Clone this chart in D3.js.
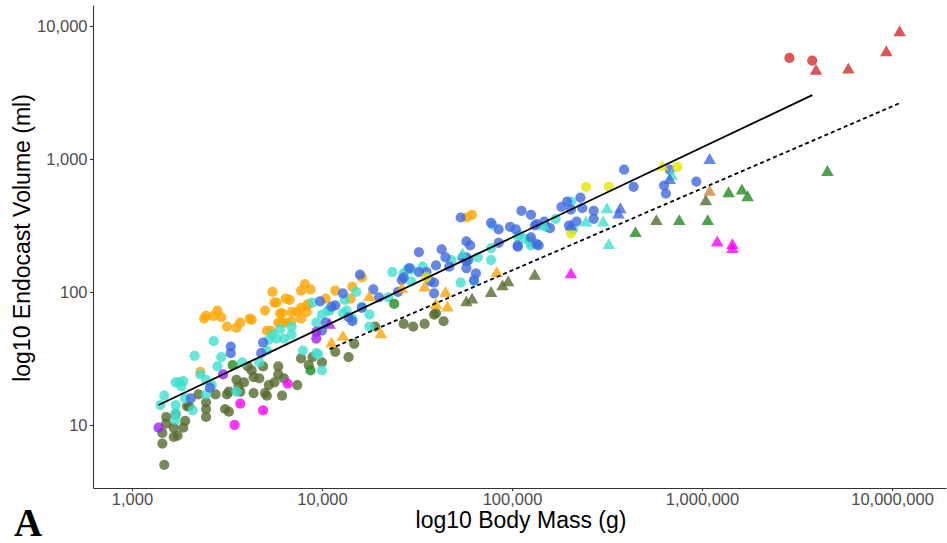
<!DOCTYPE html>
<html>
<head>
<meta charset="utf-8">
<script src="https://cdn.jsdelivr.net/npm/d3@7"></script>
<style>
  body { margin: 0; background: #fff; }
  text { font-family: "Liberation Sans", Arial, sans-serif; }
</style>
</head>
<body>
<svg id="chart" width="947" height="543"></svg>
<script>
// values are [log10 body mass (g), log10 endocast volume (ml)]

var orangeCircles = [[3.36,1.40],[3.38,1.80],[3.39,1.82],[3.43,1.82],[3.45,1.86],[3.47,1.81],[3.50,1.74],[3.55,1.73],
  [3.57,1.77],[3.62,1.80],[3.63,1.79],[3.70,1.86],[3.74,2.00],[3.75,1.92],[3.76,1.92],[3.71,1.71],[3.73,1.71],[3.77,1.77],
  [3.78,1.84],[3.79,1.84],[3.81,1.95],[3.83,1.94],[3.84,1.85],[3.81,1.77],[3.79,1.77],[3.84,1.78],[3.87,1.85],[3.89,2.01],
  [3.91,2.06],[3.94,2.02],[3.92,1.90],[3.92,1.85],[3.89,1.80],[4.02,1.95],[4.07,2.01],[4.16,2.04],[4.15,1.95],[4.21,2.11],
  [4.76,2.56],[4.79,2.58],[3.93,1.91],[3.89,1.88]];
var orangeTriangles = [[4.05,1.61],[4.11,1.66],[4.31,1.68],[4.25,1.96],[4.42,2.02],[4.54,2.03],[4.65,1.99],[4.66,1.88],
  [4.60,1.90],[4.92,2.14]];

var turquoiseCircles = [[3.43,1.63],[3.33,1.52],[3.47,1.51],[3.45,1.44],[3.23,1.32],[3.25,1.32],[3.27,1.33],[3.26,1.29],
  [3.17,1.22],[3.15,1.15],[3.23,1.15],[3.23,1.09],[3.23,1.04],[3.28,1.20],[3.32,1.11],[3.36,1.38],[3.39,1.34],[3.42,1.30],
  [3.39,1.23],[3.55,1.25],[3.58,1.47],[3.67,1.47],[3.72,1.64],[3.76,1.65],[3.80,1.65],[3.84,1.68],[3.84,1.74],[3.78,1.72],
  [3.74,1.68],[3.90,1.56],[3.97,1.77],[4.00,1.83],[4.03,1.86],[3.95,1.92],[4.00,1.41],[3.97,1.54],[3.71,1.56],[4.37,2.15],
  [4.25,1.83],[4.25,1.74],[4.18,2.00],[4.16,1.80],[4.12,1.94],[4.13,1.86],[4.04,1.86],[3.98,1.53],[4.43,2.14],[4.45,2.17],
  [4.53,2.19],[4.47,2.08],[4.47,2.17],[4.35,1.96],[4.21,1.89],[4.11,1.84],[4.90,2.50],[4.89,2.24],[4.82,2.26],[4.73,2.07],
  [4.80,2.08],[4.68,2.24],[5.04,2.43],[5.09,2.39],[5.10,2.35],[5.18,2.49],[5.23,2.55],[5.31,2.68],[5.32,2.47],[5.07,2.40],
  [5.10,2.37],[5.03,2.42],[4.89,2.33]];
var turquoiseTriangles = [[4.74,2.28],[5.17,2.49],[5.39,2.52],[5.48,2.52],[5.50,2.62],[5.51,2.35],[5.84,2.87]];

var blueCircles = [[3.52,1.59],[3.52,1.54],[3.69,1.62],[3.68,1.54],[3.31,1.20],[3.41,1.28],[3.99,1.93],[4.02,1.77],
  [4.00,1.71],[4.51,2.30],[4.60,2.20],[4.51,2.15],[4.43,2.11],[4.59,2.07],[4.59,1.99],[4.40,2.00],[4.21,1.88],[4.16,1.78],
  [4.11,1.99],[4.07,1.90],[4.73,2.56],[5.05,2.61],[5.10,2.58],[4.89,2.52],[4.93,2.47],[4.99,2.49],[5.02,2.47],[5.12,2.50],
  [5.17,2.53],[5.10,2.41],[5.14,2.35],[5.03,2.34],[4.93,2.37],[4.78,2.35],[4.76,2.38],[4.76,2.26],[4.76,2.23],[4.76,2.18],
  [4.81,2.14],[4.80,2.09],[4.63,2.32],[4.65,2.26],[4.55,2.15],[4.46,2.18],[4.42,2.09],[4.57,2.08],[4.27,2.02],[4.30,1.96],
  [4.20,2.13],[4.05,1.89],[4.14,1.81],[5.59,2.92],[5.64,2.79],[5.80,2.80],[5.81,2.74],[5.97,2.83],[5.83,2.92],[5.36,2.71],
  [5.29,2.68],[5.31,2.62],[5.26,2.64],[5.37,2.63],[5.43,2.61],[5.43,2.55],[5.34,2.53],[5.13,2.51],[5.20,2.48],[5.13,2.36],
  [5.03,2.35],[4.67,2.19],[5.30,2.50],[4.74,2.26],[4.77,2.24]];
var blueTriangles = [[5.57,2.62],[5.56,2.58],[5.31,2.49],[6.04,2.99],[5.83,2.84]];

var oliveCircles = [[3.17,0.70],[3.16,0.86],[3.24,0.92],[3.22,0.91],[3.22,0.98],[3.27,0.98],[3.28,1.03],[3.16,0.94],
  [3.18,1.01],[3.18,1.06],[3.23,1.08],[3.29,1.14],[3.30,1.14],[3.35,1.23],[3.39,1.17],[3.39,1.12],[3.39,1.06],[3.44,1.23],
  [3.49,1.12],[3.51,1.10],[3.50,1.23],[3.55,1.34],[3.56,1.29],[3.57,1.25],[3.59,1.32],[3.61,1.44],[3.63,1.41],[3.64,1.36],
  [3.67,1.35],[3.69,1.44],[3.64,1.24],[3.70,1.24],[3.71,1.22],[3.72,1.30],[3.75,1.32],[3.77,1.44],[3.77,1.38],[3.80,1.35],
  [3.79,1.22],[3.87,1.30],[3.89,1.50],[3.93,1.45],[3.95,1.51],[4.00,1.47],[3.51,1.25],[4.07,1.55],[4.14,1.51],[4.17,1.61],
  [4.28,1.74],[4.43,1.76],[4.48,1.74],[4.54,1.76],[4.59,1.83],[4.60,1.84],[4.64,1.78]];
var oliveTriangles = [[4.76,1.92],[4.79,1.94],[4.89,1.99],[4.95,2.04],[4.98,2.07],[5.12,2.12],[5.76,2.53],[6.02,2.68]];

var greenCircles = [[3.53,1.45],[3.94,1.41],[4.38,1.91]];
var greenTriangles = [[5.65,2.44],[5.88,2.53],[6.03,2.53],[6.14,2.74],[6.21,2.76],[6.24,2.71],[6.66,2.90]];

var purpleCircles = [[3.14,0.98],[3.48,1.38],[3.97,1.70],[3.97,1.65]];
var purpleTriangles = [[4.04,1.75]];

var magentaCircles = [[3.54,1.00],[3.57,1.16],[3.69,1.11],[3.82,1.31]];
var magentaTriangles = [[5.31,2.13],[6.08,2.37],[6.16,2.35],[6.16,2.32]];

var yellowCircles = [[4.55,2.11],[5.39,2.79],[5.51,2.79],[5.31,2.44],[5.87,2.94]];
var yellowTriangles = [[5.79,2.94]];

var peruTriangles = [[6.04,2.75]];

var redCircles = [[6.46,3.76],[6.58,3.74]];
var redTriangles = [[6.60,3.66],[6.77,3.67],[6.97,3.80],[7.04,3.95]];

// fitted lines, end points
var solidFit = [[3.14,1.15],[6.58,3.48]];
var dashedFit = [[4.04,1.57],[7.04,3.42]];

var xTicks = [1e3, 1e4, 1e5, 1e6, 1e7];
var yTicks = [10, 100, 1000, 10000];

var colours = {
  orange: "#FFA500", turquoise: "#40E0D0", blue: "#4169E1", olive: "#556B2F", green: "#228B22",
  purple: "#A020F0", magenta: "#FF00FF", yellow: "#E6E600", peru: "#CD853F", red: "#D42A2A"
};

var series = [
  ["olive", "circle", oliveCircles], ["orange", "circle", orangeCircles], ["turquoise", "circle", turquoiseCircles],
  ["blue", "circle", blueCircles], ["green", "circle", greenCircles], ["purple", "circle", purpleCircles],
  ["magenta", "circle", magentaCircles], ["yellow", "circle", yellowCircles], ["red", "circle", redCircles],
  ["orange", "triangle", orangeTriangles], ["turquoise", "triangle", turquoiseTriangles], ["blue", "triangle", blueTriangles],
  ["olive", "triangle", oliveTriangles], ["green", "triangle", greenTriangles], ["purple", "triangle", purpleTriangles],
  ["magenta", "triangle", magentaTriangles], ["yellow", "triangle", yellowTriangles], ["peru", "triangle", peruTriangles],
  ["red", "triangle", redTriangles]
];

var points = [];
series.forEach(function (s) {
  s[2].forEach(function (p) {
    points.push({ group: s[0], shape: s[1], mass: Math.pow(10, p[0]), vol: Math.pow(10, p[1]) });
  });
});

var svg = d3.select("#chart");

var x = d3.scaleLog().domain([Math.pow(10, 2.795), Math.pow(10, 7.284)]).range([93, 946]);
var y = d3.scaleLog().domain([Math.pow(10, 0.526), Math.pow(10, 4.158)]).range([488, 5]);

// points
var circleSym = d3.symbol().type(d3.symbolCircle).size(82);
var triSym = d3.symbol().type(d3.symbolTriangle).size(68);

svg.append("g").selectAll("path")
  .data(points)
  .enter().append("path")
    .attr("transform", function (d) { return "translate(" + x(d.mass) + "," + y(d.vol) + ")"; })
    .attr("d", function (d) { return d.shape === "circle" ? circleSym() : triSym(); })
    .style("fill", function (d) { return colours[d.group]; })
    .style("fill-opacity", 0.8);

// fit lines
var line = d3.line()
  .x(function (d) { return x(Math.pow(10, d[0])); })
  .y(function (d) { return y(Math.pow(10, d[1])); });

svg.append("path").datum(solidFit)
  .attr("d", line).style("fill", "none").style("stroke", "#000").style("stroke-width", 1.8);
svg.append("path").datum(dashedFit)
  .attr("d", line).style("fill", "none").style("stroke", "#000").style("stroke-width", 1.8)
  .style("stroke-dasharray", "4,3");

// axes
var xAxis = svg.append("g").attr("transform", "translate(0,488)")
  .call(d3.axisBottom(x).tickValues(xTicks).tickFormat(d3.format(",")).tickSize(3).tickPadding(2.5).tickSizeOuter(0));
var yAxis = svg.append("g").attr("transform", "translate(93,0)")
  .call(d3.axisLeft(y).tickValues(yTicks).tickFormat(d3.format(",")).tickSize(3).tickPadding(2.5).tickSizeOuter(0));

[xAxis, yAxis].forEach(function (a) {
  a.select(".domain").style("stroke", "#333").style("stroke-width", 1.1);
  a.selectAll(".tick line").style("stroke", "#333").style("stroke-width", 1.1);
  a.selectAll(".tick text").style("fill", "#4D4D4D").style("font-size", "16.5px")
    .style("font-family", "'Liberation Sans', Arial, sans-serif");
});

// titles
svg.append("text")
  .attr("x", 521).attr("y", 528)
  .attr("text-anchor", "middle")
  .style("font-size", "23px").style("fill", "#000")
  .text("log10 Body Mass (g)");

svg.append("text")
  .attr("transform", "translate(30,238) rotate(-90)")
  .attr("text-anchor", "middle")
  .style("font-size", "23px").style("fill", "#000")
  .text("log10 Endocast Volume (ml)");

svg.append("text")
  .attr("x", 14).attr("y", 536)
  .style("font-family", "'Liberation Serif', 'Times New Roman', serif")
  .style("font-weight", "bold").style("font-size", "39px")
  .text("A");
</script>
</body>
</html>
